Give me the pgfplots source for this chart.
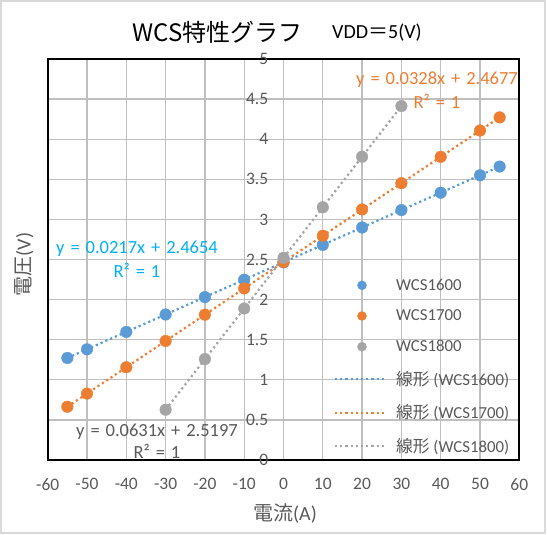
\documentclass[border=0pt]{standalone}
\usepackage{pgfplots}
\pgfplotsset{compat=1.18}
\usepackage{fontspec}
\setmainfont{Carlito}
\newfontfamily\jp{Noto Sans CJK JP}
\definecolor{c1}{HTML}{5B9BD5}
\definecolor{c2}{HTML}{ED7D31}
\definecolor{c3}{HTML}{A5A5A5}
\definecolor{eqblue}{HTML}{00B0F0}
\definecolor{txt}{HTML}{595959}
\definecolor{gridc}{HTML}{BFBFBF}
\definecolor{framec}{HTML}{D9D9D9}
\pgfplotsset{
  scatleg/.style={legend image code/.code={\draw[mark repeat=2, mark phase=2, ##1, mark size=4.5pt] plot coordinates {(0pt,0pt) (27pt,0pt) (51pt,0pt)};}},
  lineleg/.style={legend image code/.code={\draw[##1] (0pt,0pt) -- (51pt,0pt);}},
}
\newcommand{\gap}{\hspace{0.32em}}
\begin{document}
\begin{tikzpicture}[x=1pt,y=1pt]
\useasboundingbox (0,0) rectangle (547,535);
\draw[framec, line width=2pt] (1,1.5) rectangle (545,534);
\begin{axis}[
  at={(47.7pt,75pt)}, anchor=south west,
  scale only axis, width=471.6pt, height=401pt,
  xmin=-60, xmax=60, ymin=0, ymax=5,
  xtick={-60,-50,-40,-30,-20,-10,0,10,20,30,40,50,60},
  ytick={0,0.5,1,1.5,2,2.5,3,3.5,4,4.5,5},
  grid=major, major grid style={gridc, line width=1.3pt},
  axis line style={black, line width=2pt},
  major tick length=0pt,
  /pgf/number format/assume math mode=true,
  tick label style={font=\fontsize{17.5}{20}\selectfont, text=txt},
  yticklabel style={xshift=224pt},
  xticklabel style={yshift=-15pt},
  clip=false,
  legend cell align=left,
  legend style={at={(0.6,0.462)}, anchor=north west, draw=none, fill=none,
    font=\fontsize{16.8}{19}\selectfont, text=txt, row sep=14pt, column sep=7pt},
]
\addplot[only marks, mark=*, mark size=5.8pt, color=c1, mark options={fill=c1, draw=c1}, scatleg]
  coordinates {(-55,1.272) (-50,1.380) (-40,1.597) (-30,1.814) (-20,2.031) (-10,2.248) (0,2.465) (10,2.682) (20,2.899) (30,3.116) (40,3.333) (50,3.550) (55,3.659)};
\addlegendentry{WCS1600}
\addplot[only marks, mark=*, mark size=5.8pt, color=c2, mark options={fill=c2, draw=c2}, scatleg]
  coordinates {(-55,0.664) (-50,0.828) (-40,1.156) (-30,1.484) (-20,1.812) (-10,2.140) (0,2.468) (10,2.796) (20,3.124) (30,3.452) (40,3.780) (50,4.108) (55,4.272)};
\addlegendentry{WCS1700}
\addplot[only marks, mark=*, mark size=5.8pt, color=c3, mark options={fill=c3, draw=c3}, scatleg]
  coordinates {(-30,0.627) (-20,1.258) (-10,1.889) (0,2.520) (10,3.151) (20,3.782) (30,4.413)};
\addlegendentry{WCS1800}
\addplot[c1, line width=2.2pt, dash pattern=on 2.2pt off 3pt, no marks, lineleg]
  coordinates {(-55,1.2719) (55,3.6589)};
\addlegendentry{{\jp 線形} (WCS1600)}
\addplot[c2, line width=2.2pt, dash pattern=on 2.2pt off 3pt, no marks, lineleg]
  coordinates {(-55,0.6637) (55,4.2717)};
\addlegendentry{{\jp 線形} (WCS1700)}
\addplot[c3, line width=2.2pt, dash pattern=on 2.2pt off 3pt, no marks, lineleg]
  coordinates {(-30,0.6267) (30,4.4127)};
\addlegendentry{{\jp 線形} (WCS1800)}
\end{axis}
% titles and labels
\node[font=\fontsize{24}{28}\selectfont, text=black] at (217.5,502.6) {\jp WCS特性グラフ};
\node[font=\fontsize{20}{24}\selectfont, text=black] at (377,502.5) {VDD{\jp ＝}5(V)};
\node[font=\fontsize{20}{24}\selectfont, text=txt] at (285,22) {{\jp 電流}(A)};
\node[font=\fontsize{20}{24}\selectfont, text=txt, rotate=90] at (24,270.5) {{\jp 電圧}(V)};
% trendline equations
\node[font=\fontsize{18.5}{21}\selectfont, text=eqblue] at (137,286.7) {y\gap=\gap0.0217x\gap+\gap2.4654};
\node[font=\fontsize{18.5}{21}\selectfont, text=eqblue] at (137,264.3) {R²\gap=\gap1};
\node[font=\fontsize{18.5}{21}\selectfont, text=c2] at (437,455.7) {y\gap=\gap0.0328x\gap+\gap2.4677};
\node[font=\fontsize{18.5}{21}\selectfont, text=c2] at (437,433.3) {R²\gap=\gap1};
\node[font=\fontsize{18.5}{21}\selectfont, text=txt] at (157,103.3) {y\gap=\gap0.0631x\gap+\gap2.5197};
\node[font=\fontsize{18.5}{21}\selectfont, text=txt] at (157,83.3) {R²\gap=\gap1};
\end{tikzpicture}
\end{document}
